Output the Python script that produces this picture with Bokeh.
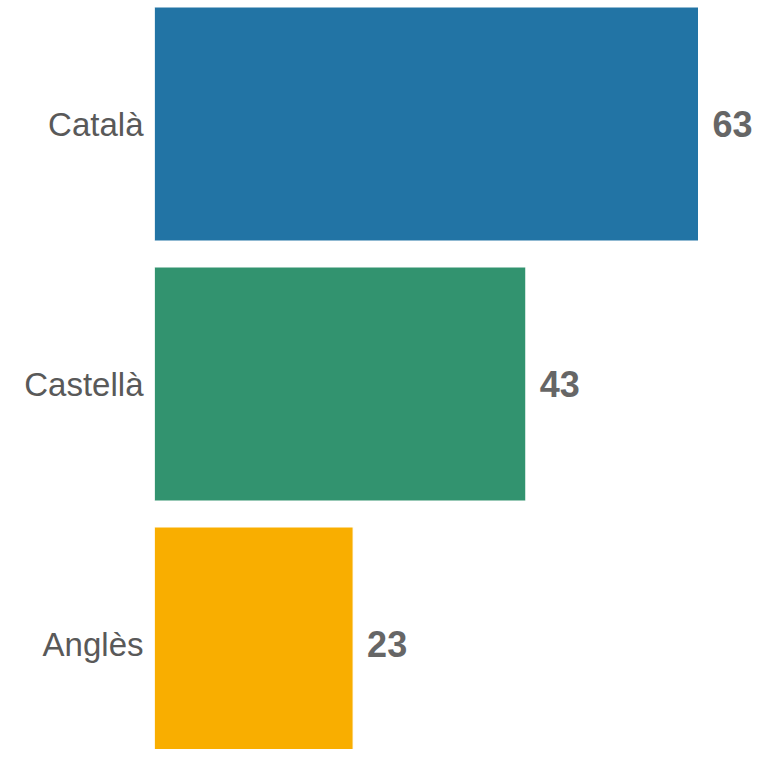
from bokeh.plotting import figure
from bokeh.models import Range1d, ColumnDataSource, FixedTicker
from bokeh.core.properties import value
from bokeh.embed import file_html
from bokeh.resources import INLINE

categories = ["Català", "Castellà", "Anglès"]
values = [63, 43, 23]
colors = ["#2274A5", "#32936F", "#F9AE00"]

n = len(categories)
ypos = [n - 1 - i for i in range(n)]

src = ColumnDataSource(dict(
    y=ypos, v=values, c=colors, lbl=[str(v) for v in values], cat=categories,
))

W, H = 753, 749
left = 154
px_per_row = 260.0
px_per_unit = 8.635
top_offset = 123.5  # px from frame top to first bar centre
y_end = (n - 1) + top_offset / px_per_row
y_start = y_end - H / px_per_row

p = figure(width=W, height=H, output_backend="svg", toolbar_location=None,
           x_range=Range1d(0, (W - left) / px_per_unit),
           y_range=Range1d(y_start, y_end),
           min_border_left=left, min_border_right=0,
           min_border_top=0, min_border_bottom=0)

p.hbar(y="y", right="v", left=0, height=0.9, source=src,
       fill_color="c", line_color="white", line_width=1)

p.text(x="v", y="y", text="lbl", source=src, x_offset=14,
       text_align="left", text_baseline="middle",
       text_font=value("Liberation Sans"), text_font_style="bold",
       text_font_size="36px", text_color="#666666")

p.xaxis.visible = False
p.yaxis.ticker = FixedTicker(ticks=ypos)
p.yaxis.major_label_overrides = {y: c for y, c in zip(ypos, categories)}
p.yaxis.axis_line_color = None
p.yaxis.major_tick_line_color = None
p.yaxis.minor_tick_line_color = None
p.yaxis.major_label_standoff = 5
p.yaxis.major_label_text_font = "Liberation Sans"
p.yaxis.major_label_text_font_size = "33px"
p.yaxis.major_label_text_color = "#595959"
p.grid.visible = False
p.outline_line_color = None

open("out.html", "w").write(file_html(p, INLINE))
